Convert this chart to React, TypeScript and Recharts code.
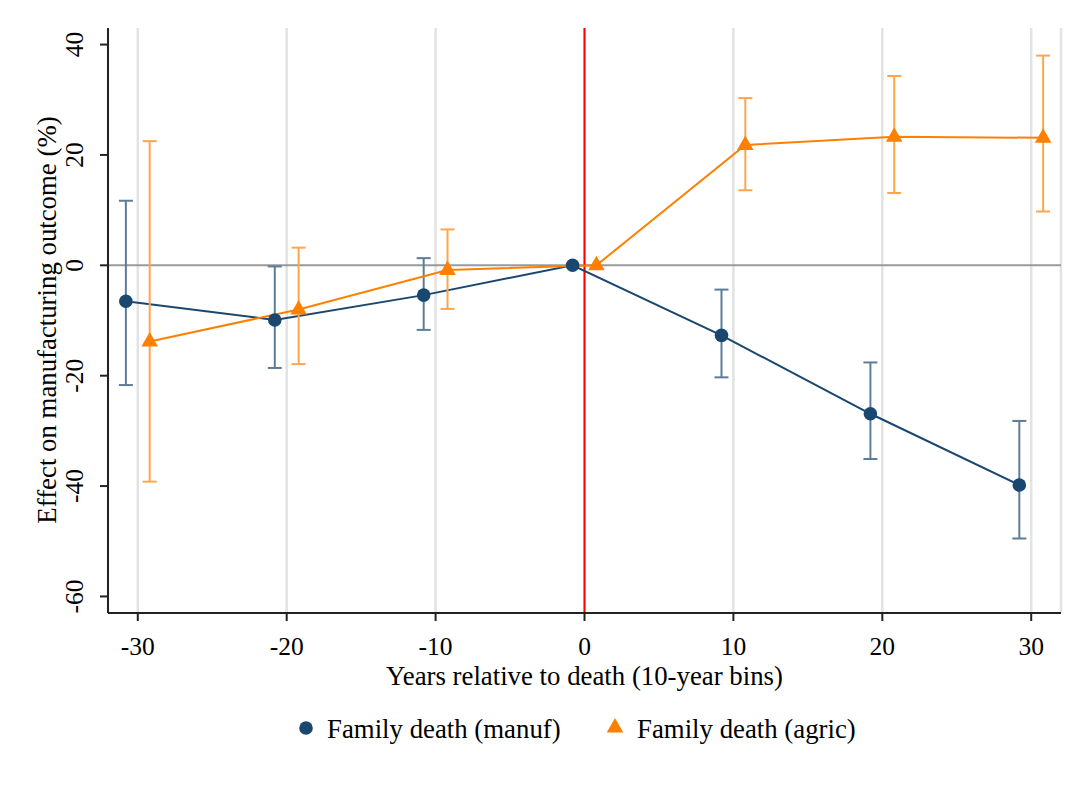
import React from 'react';
import {
  ComposedChart,
  Line,
  XAxis,
  YAxis,
  CartesianGrid,
  ReferenceLine,
  ErrorBar,
  Label,
} from 'recharts';

// 10-year bins relative to the family death
const bins = [-30, -20, -10, 0, 10, 20, 30];
const xTicks = [-30, -20, -10, 0, 10, 20, 30];
const yTicks = [-60, -40, -20, 0, 20, 40];

// Family death (manuf): point estimates and 95% CI bounds
const manufEst = [-6.5, -9.9, -5.4, 0, -12.7, -26.9, -39.8];
const manufLo = [-21.7, -18.6, -11.7, 0, -20.3, -35.1, -49.5];
const manufHi = [11.7, -0.2, 1.3, 0, -4.4, -17.6, -28.2];

// Family death (agric): point estimates and 95% CI bounds
const agricEst = [-13.8, -8.0, -0.85, 0, 21.8, 23.3, 23.1];
const agricLo = [-39.2, -17.9, -7.9, 0, 13.6, 13.1, 9.75];
const agricHi = [22.5, 3.2, 6.5, 0, 30.3, 34.3, 38.0];

const NAVY = '#1a476f';
const NAVY_CI = '#5d7c98';
const ORANGE = '#ff8000';
const ORANGE_CI = '#ffa64d';
const FONT = '"Liberation Serif", "Times New Roman", serif';

// series are dodged slightly left/right of each bin
const DODGE = 0.8;

const buildRows = (est: number[], lo: number[], hi: number[], shift: number) =>
  bins.map((b, i) => ({
    x: b + shift,
    y: est[i],
    err: lo[i] === hi[i] ? undefined : [est[i] - lo[i], hi[i] - est[i]],
  }));

const manufRows = buildRows(manufEst, manufLo, manufHi, -DODGE);
const agricRows = buildRows(agricEst, agricLo, agricHi, DODGE);

const CircleDot = (p: any) => {
  if (p.cx == null || p.cy == null) return <g key={`c-${p.index}`} />;
  return <circle key={`c-${p.index}`} cx={p.cx} cy={p.cy} r={6.8} fill={NAVY} stroke="none" />;
};

const TriangleDot = (p: any) => {
  if (p.cx == null || p.cy == null) return <g key={`t-${p.index}`} />;
  const { cx, cy } = p;
  const d = `M${cx},${cy - 9.5} L${cx + 8.3},${cy + 5} L${cx - 8.3},${cy + 5} Z`;
  return <path key={`t-${p.index}`} d={d} fill={ORANGE} stroke="none" />;
};

const YTick = (props: any) => {
  const { x, y, payload } = props;
  const bx = x - 15;
  return (
    <text
      x={bx}
      y={y}
      transform={`rotate(-90 ${bx} ${y})`}
      textAnchor="middle"
      fontFamily={FONT}
      fontSize={25.5}
      fill="#000"
    >
      {payload.value}
    </text>
  );
};

const Legend = () => (
  <svg
    width={1089}
    height={60}
    style={{ position: 'absolute', left: 0, top: 700 }}
  >
    <circle cx={306} cy={28} r={6.8} fill={NAVY} />
    <text x={327} y={38} fontFamily={FONT} fontSize={26.8} fill="#000">
      Family death (manuf)
    </text>
    <path d="M615,18 L623.3,32.5 L606.7,32.5 Z" fill={ORANGE} />
    <text x={637} y={38} fontFamily={FONT} fontSize={26.8} fill="#000">
      Family death (agric)
    </text>
  </svg>
);

export default function App() {
  return (
    <div style={{ position: 'absolute', left: 0, top: 0, width: 1089, height: 792, background: '#fff' }}>
      <ComposedChart
        width={1089}
        height={792}
        margin={{ top: 28, right: 28, bottom: 107, left: 0 }}
      >
        <CartesianGrid horizontal={false} stroke="#e3e3e3" strokeWidth={2.5} />
        <XAxis
          type="number"
          dataKey="x"
          domain={[-32, 32]}
          ticks={xTicks}
          allowDataOverflow
          height={72}
          tickSize={8}
          tickMargin={16}
          stroke="#222"
          strokeWidth={2}
          tick={{ fontFamily: FONT, fontSize: 25.5, fill: '#000' }}
        >
          <Label
            value="Years relative to death (10-year bins)"
            position="insideBottom"
            offset={0}
            style={{ fontFamily: FONT, fontSize: 26.8, fill: '#000' }}
          />
        </XAxis>
        <YAxis
          type="number"
          domain={[-63, 43]}
          ticks={yTicks}
          allowDataOverflow
          width={108}
          tickSize={8}
          stroke="#222"
          strokeWidth={2}
          tick={<YTick />}
        >
          <Label
            content={() => (
              <text
                x={56}
                y={320}
                transform="rotate(-90 56 320)"
                textAnchor="middle"
                fontFamily={FONT}
                fontSize={26.8}
                fill="#000"
              >
                Effect on manufacturing outcome (%)
              </text>
            )}
          />
        </YAxis>
        <ReferenceLine y={0} stroke="#9a9a9a" strokeWidth={2} />
        <ReferenceLine x={0} stroke="#ff0000" strokeWidth={2} />
        <Line
          data={manufRows}
          dataKey="y"
          stroke={NAVY}
          strokeWidth={2}
          dot={CircleDot}
          activeDot={false}
          isAnimationActive={false}
        >
          <ErrorBar dataKey="err" direction="y" width={7} stroke={NAVY_CI} strokeWidth={2} />
        </Line>
        <Line
          data={agricRows}
          dataKey="y"
          stroke={ORANGE}
          strokeWidth={2}
          dot={TriangleDot}
          activeDot={false}
          isAnimationActive={false}
        >
          <ErrorBar dataKey="err" direction="y" width={7} stroke={ORANGE_CI} strokeWidth={2} />
        </Line>
      </ComposedChart>
      <Legend />
    </div>
  );
}
